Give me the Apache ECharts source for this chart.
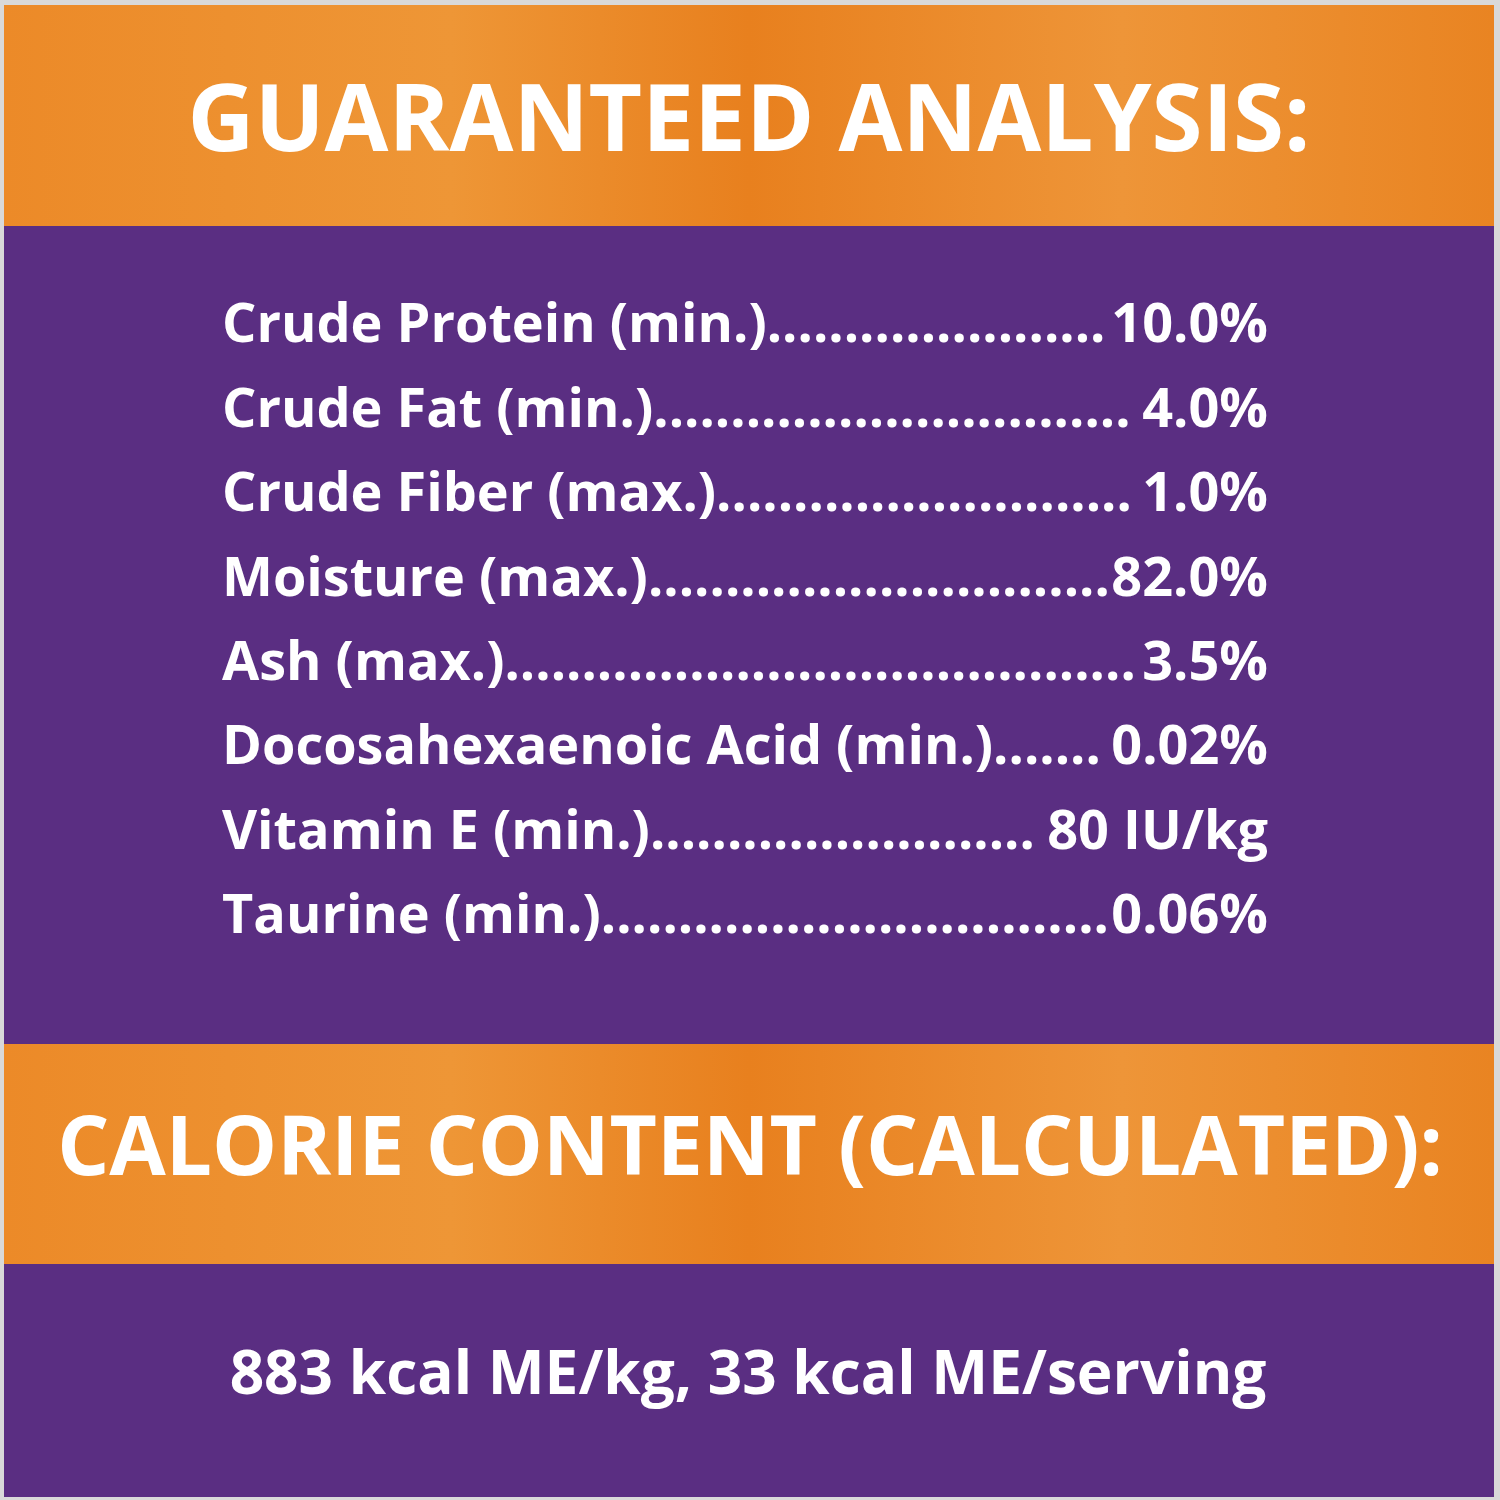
<!DOCTYPE html>
<html><head><meta charset="utf-8">
<script src="https://cdn.jsdelivr.net/npm/echarts@6/dist/echarts.min.js"></script>
<style>html,body{margin:0;padding:0;background:#fff}#c{width:1500px;height:1500px}</style>
</head><body><div id="c"></div>
<script>
var title1 = "GUARANTEED ANALYSIS:";
var title2 = "CALORIE CONTENT (CALCULATED):";
var nutrients = ["Crude Protein (min.)","Crude Fat (min.)","Crude Fiber (max.)","Moisture (max.)","Ash (max.)","Docosahexaenoic Acid (min.)","Vitamin E (min.)","Taurine (min.)"];
var amounts = ["10.0%","4.0%","1.0%","82.0%","3.5%","0.02%","80 IU/kg","0.06%"];
var calorieText = "883 kcal ME/kg, 33 kcal ME/serving";

var FONT = '"Open Sans", "DejaVu Sans", sans-serif';
var cv = document.createElement('canvas').getContext('2d');
function w(t, size){ cv.font = 'bold ' + size + 'px ' + FONT; return cv.measureText(t).width; }
function fit(t, target){ return 100 * target / w(t, 100); }

var orange = new echarts.graphic.LinearGradient(0,0,1,0,[
  {offset:0,color:'#EC8A28'},{offset:0.3,color:'#EE9636'},{offset:0.5,color:'#E8801E'},
  {offset:0.75,color:'#EE9538'},{offset:1,color:'#E98422'}]);
var purple = '#5A2E82';
var els = [
  {type:'rect',shape:{x:0,y:0,width:1500,height:1500},style:{fill:'#d9d9d9'}},
  {type:'rect',shape:{x:4,y:5,width:1490,height:221},style:{fill:orange}},
  {type:'rect',shape:{x:4,y:226,width:1490,height:818},style:{fill:purple}},
  {type:'rect',shape:{x:4,y:1044,width:1490,height:220},style:{fill:orange}},
  {type:'rect',shape:{x:4,y:1264,width:1490,height:233},style:{fill:purple}}
];
function txt(t,x,y,size,align){
  els.push({type:'text',x:x,y:y,style:{text:t,fill:'#fff',font:'bold '+size+'px '+FONT,align:align,verticalAlign:'middle'}});
}
txt(title1, 749, 125, fit(title1, 1123), 'center');
txt(title2, 750, 1152, fit(title2, 1386), 'center');
txt(calorieText, 748, 1377, fit(calorieText, 1037), 'center');
var rs = 54, left = 222, right = 1268;
nutrients.forEach(function(n,i){
  var y = 327 + i*84.4;
  var avail = right - left - w(n,rs) - w(amounts[i],rs);
  var dots = Math.max(0, Math.floor(avail / w('.',rs)));
  txt(n + '.'.repeat(dots), left, y, rs, 'left');
  txt(amounts[i], right, y, rs, 'right');
});
var chart = echarts.init(document.getElementById('c'));
chart.setOption({animation:false, graphic:{elements:els}});
</script></body></html>
